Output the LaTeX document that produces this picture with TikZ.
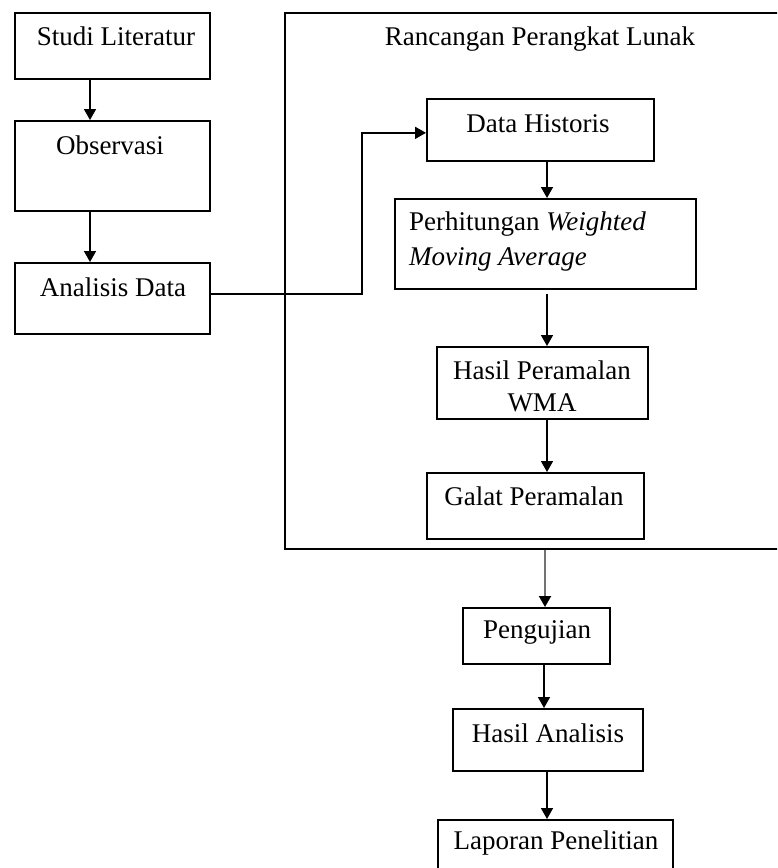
\documentclass[tikz,border=0pt]{standalone}
\usepackage{fontspec}
\setmainfont{Liberation Serif}
\usetikzlibrary{arrows.meta}
\begin{document}
\begin{tikzpicture}[x=1pt,y=-1pt,
  box/.style={draw,line width=1.7pt,rectangle,inner sep=0pt,anchor=north west},
  txt/.style={inner sep=0pt,anchor=base,font=\fontsize{27}{33}\selectfont},
  arr/.style={line width=1.7pt,-{Triangle[width=12pt,length=11pt]}},
  garr/.style={line width=2pt,draw=black!55,-{Triangle[width=12pt,length=11pt,color=black]}}]
\useasboundingbox (0,0) rectangle (777,868);
\clip (0,0) rectangle (777,868);
\fill[white] (0,0) rectangle (777,868);
% left column
\node[box,minimum width=195pt,minimum height=66pt] (sl) at (14,12) {};
\node[box,minimum width=195pt,minimum height=90pt] (ob) at (14,120) {};
\node[box,minimum width=195pt,minimum height=71pt] (ad) at (14,262) {};
\node[txt] (tsl) at (116,45) {Studi Literatur};
\node[txt] (tob) at (110,154) {Observasi};
\node[txt] (tad) at (113,296) {Analisis Data};
% big box
\node[box,minimum width=520pt,minimum height=536pt] (rpl) at (284,12) {};
\node[txt] (trpl) at (540,45) {Rancangan Perangkat Lunak};
% right column
\node[box,minimum width=227pt,minimum height=62pt] (dh) at (426,98) {};
\node[txt] (tdh) at (538,132) {Data Historis};
\node[box,minimum width=301pt,minimum height=90pt] (ph) at (394,198) {};
\node[txt,anchor=base west] (tph1) at (409,230) {Perhitungan \textit{Weighted}};
\node[txt,anchor=base west] (tph2) at (409,265) {\textit{Moving Average}};
\node[box,minimum width=211pt,minimum height=72pt] (wma) at (436,346) {};
\node[txt] (twma1) at (542,379) {Hasil Peramalan};
\node[txt] (twma2) at (542,411) {WMA};
\node[box,minimum width=217pt,minimum height=66pt] (gp) at (426,472) {};
\node[txt] (tgp) at (534,505) {Galat Peramalan};
\node[box,minimum width=147pt,minimum height=56pt] (pj) at (462,607) {};
\node[txt] (tpj) at (537,638) {Pengujian};
\node[box,minimum width=190pt,minimum height=62pt] (ha) at (452,708) {};
\node[txt] (tha) at (548,742) {Hasil Analisis};
\node[box,minimum width=235pt,minimum height=70pt] (lp) at (437,819) {};
\node[txt] (tlp) at (556,849) {Laporan Penelitian};
% column coordinates
\coordinate (cl) at (90,0);
\coordinate (cr) at (547,0);
\coordinate (cg) at (545,0);
\coordinate (cp) at (544,0);
\coordinate (bend) at (362,0);
% connectors
\draw[arr] (sl.south -| cl) -- (ob.north -| cl);
\draw[arr] (ob.south -| cl) -- (ad.north -| cl);
\draw[arr] ([yshift=4.5pt]ad.east) -| ([yshift=-3pt]dh.west -| bend) -- ([yshift=-3pt]dh.west);
\draw[arr] (dh.south -| cr) -- (ph.north -| cr);
\draw[arr] ([yshift=-4pt]ph.south -| cr) -- (wma.north -| cr);
\draw[arr] (wma.south -| cr) -- (gp.north -| cr);
\draw[garr] (rpl.south -| cg) -- (pj.north -| cg);
\draw[arr] (pj.south -| cp) -- (ha.north -| cp);
\draw[arr] (ha.south -| cr) -- (lp.north -| cr);
\end{tikzpicture}
\end{document}
